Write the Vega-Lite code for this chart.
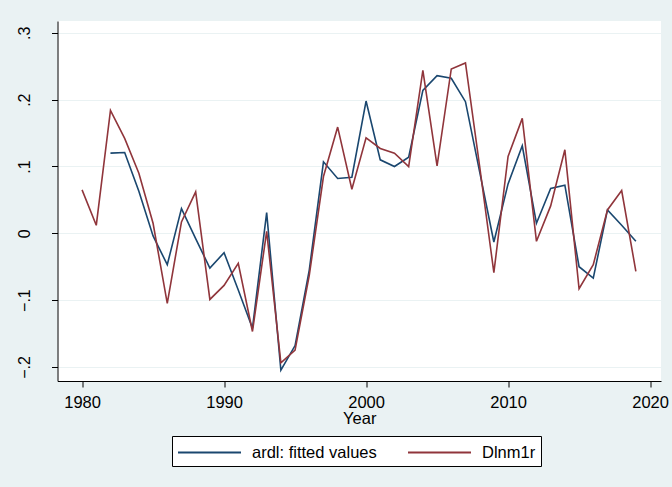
{
  "$schema": "https://vega.github.io/schema/vega-lite/v6.json",
  "autosize": "none",
  "padding": {"left": 57.5, "top": 21, "right": 11, "bottom": 106},
  "width": 603.5,
  "height": 360,
  "background": "#EAF2F3",
  "view": {"fill": "white", "stroke": null},
  "config": {
    "font": "Liberation Sans",
    "axis": {"labelFont": "Liberation Sans", "titleFont": "Liberation Sans"},
    "legend": {"labelFont": "Liberation Sans"}
  },
  "datasets": {
    "fitted": [
      {"year": 1982, "value": 0.120}, {"year": 1983, "value": 0.121}, {"year": 1984, "value": 0.063},
      {"year": 1985, "value": -0.004}, {"year": 1986, "value": -0.047}, {"year": 1987, "value": 0.037},
      {"year": 1988, "value": -0.008}, {"year": 1989, "value": -0.052}, {"year": 1990, "value": -0.029},
      {"year": 1991, "value": -0.085}, {"year": 1992, "value": -0.142}, {"year": 1993, "value": 0.031},
      {"year": 1994, "value": -0.205}, {"year": 1995, "value": -0.168}, {"year": 1996, "value": -0.055},
      {"year": 1997, "value": 0.107}, {"year": 1998, "value": 0.082}, {"year": 1999, "value": 0.084},
      {"year": 2000, "value": 0.198}, {"year": 2001, "value": 0.110}, {"year": 2002, "value": 0.100},
      {"year": 2003, "value": 0.114}, {"year": 2004, "value": 0.214}, {"year": 2005, "value": 0.236},
      {"year": 2006, "value": 0.232}, {"year": 2007, "value": 0.197}, {"year": 2008, "value": 0.092},
      {"year": 2009, "value": -0.013}, {"year": 2010, "value": 0.074}, {"year": 2011, "value": 0.131},
      {"year": 2012, "value": 0.015}, {"year": 2013, "value": 0.067}, {"year": 2014, "value": 0.072},
      {"year": 2015, "value": -0.050}, {"year": 2016, "value": -0.067}, {"year": 2017, "value": 0.035},
      {"year": 2018, "value": 0.012}, {"year": 2019, "value": -0.012}
    ],
    "actual": [
      {"year": 1980, "value": 0.065}, {"year": 1981, "value": 0.012}, {"year": 1982, "value": 0.184},
      {"year": 1983, "value": 0.142}, {"year": 1984, "value": 0.090}, {"year": 1985, "value": 0.015},
      {"year": 1986, "value": -0.105}, {"year": 1987, "value": 0.017}, {"year": 1988, "value": 0.062},
      {"year": 1989, "value": -0.099}, {"year": 1990, "value": -0.078}, {"year": 1991, "value": -0.045},
      {"year": 1992, "value": -0.147}, {"year": 1993, "value": 0.003}, {"year": 1994, "value": -0.194},
      {"year": 1995, "value": -0.175}, {"year": 1996, "value": -0.063}, {"year": 1997, "value": 0.085},
      {"year": 1998, "value": 0.159}, {"year": 1999, "value": 0.066}, {"year": 2000, "value": 0.143},
      {"year": 2001, "value": 0.127}, {"year": 2002, "value": 0.120}, {"year": 2003, "value": 0.100},
      {"year": 2004, "value": 0.244}, {"year": 2005, "value": 0.101}, {"year": 2006, "value": 0.246},
      {"year": 2007, "value": 0.255}, {"year": 2008, "value": 0.100}, {"year": 2009, "value": -0.059},
      {"year": 2010, "value": 0.115}, {"year": 2011, "value": 0.172}, {"year": 2012, "value": -0.012},
      {"year": 2013, "value": 0.041}, {"year": 2014, "value": 0.125}, {"year": 2015, "value": -0.083},
      {"year": 2016, "value": -0.047}, {"year": 2017, "value": 0.035}, {"year": 2018, "value": 0.064},
      {"year": 2019, "value": -0.057}
    ]
  },
  "layer": [
    {
      "data": {"name": "fitted"},
      "transform": [{"calculate": "'ardl: fitted values'", "as": "series"}],
      "mark": {"type": "line", "strokeWidth": 1.6},
      "encoding": {
        "x": {"field": "year", "type": "quantitative"},
        "y": {"field": "value", "type": "quantitative"},
        "color": {"field": "series", "type": "nominal"}
      }
    },
    {
      "data": {"name": "actual"},
      "transform": [{"calculate": "'Dlnm1r'", "as": "series"}],
      "mark": {"type": "line", "strokeWidth": 1.6},
      "encoding": {
        "x": {"field": "year", "type": "quantitative"},
        "y": {"field": "value", "type": "quantitative"},
        "color": {"field": "series", "type": "nominal"}
      }
    }
  ],
  "resolve": {"scale": {"color": "shared"}},
  "encoding": {
    "x": {
      "field": "year", "type": "quantitative",
      "scale": {"domain": [1978.27, 2020.77], "nice": false, "zero": false},
      "axis": {
        "title": "Year", "values": [1980, 1990, 2000, 2010, 2020], "format": "d",
        "grid": false, "domainColor": "black", "tickColor": "black", "tickSize": 6,
        "labelFontSize": 16.5, "labelColor": "black", "labelPadding": 7, "labelFlush": false,
        "titleFontSize": 16.5, "titleFontWeight": "normal", "titleColor": "black", "titlePadding": 0
      }
    },
    "y": {
      "field": "value", "type": "quantitative",
      "scale": {"domain": [-0.2211, 0.3178], "nice": false, "zero": false},
      "axis": {
        "title": null, "values": [-0.2, -0.1, 0, 0.1, 0.2, 0.3],
        "labelExpr": "datum.value == 0 ? '0' : replace(format(datum.value, '.1f'), '0.', '.')",
        "labelAngle": -90, "labelAlign": "center", "labelBaseline": "bottom",
        "grid": true, "gridColor": "#EAF2F3", "gridWidth": 1.2,
        "domainColor": "black", "tickColor": "black", "tickSize": 6,
        "labelFontSize": 16, "labelColor": "black", "labelPadding": 19
      }
    },
    "color": {
      "field": "series", "type": "nominal",
      "scale": {"domain": ["ardl: fitted values", "Dlnm1r"], "range": ["#1A476F", "#90353B"]},
      "legend": {
        "title": null, "orient": "none", "legendX": 114.5, "legendY": 415, "direction": "horizontal",
        "symbolType": "M-3,0L3,0", "symbolSize": 441, "symbolStrokeWidth": 2, "symbolOffset": 21,
        "labelFontSize": 16.5, "labelColor": "black", "labelOffset": 31,
        "fillColor": "white", "strokeColor": "black", "padding": 5,
        "columnPadding": 27
      }
    }
  }
}
